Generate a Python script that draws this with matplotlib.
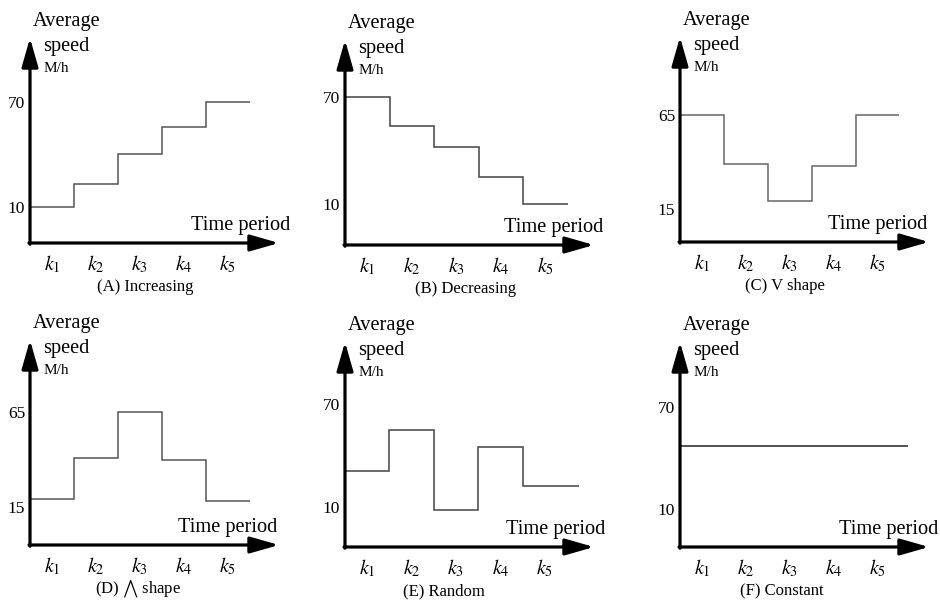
import matplotlib
matplotlib.use("Agg")
import matplotlib.pyplot as plt

plt.rcParams['font.family'] = ['Liberation Serif', 'DejaVu Serif']
plt.rcParams['mathtext.fontset'] = 'stix'

# ---------------- data ----------------
periods = ['$k_1$', '$k_2$', '$k_3$', '$k_4$', '$k_5$']
captions = ['(A) Increasing', '(B) Decreasing', '(C) V shape',
            r'(D) $\bigwedge$ shape', '(E) Random', '(F) Constant']
increasing = [10, 23, 40, 56, 70]
decreasing = [70, 54, 42, 25, 10]
v_shape = [65, 39, 19, 38, 65]
peak_shape = [19, 41, 65, 40, 18]
random_pattern = [31, 55, 8, 45, 22]
constant = [47]
tick_values = [[10, 70], [10, 70], [15, 65], [15, 65], [10, 70], [10, 70]]
series = [increasing, decreasing, v_shape, peak_shape, random_pattern, constant]

# ---------------- layout (pixels) ----------------
W, H, DPI = 940, 602, 100
origins = [(30, 243), (345, 245), (680, 242), (30, 545), (345, 547), (680, 547)]
ylims = [(-10.6, 106.6), (-13.0, 102.0), (-2.9, 106.8),
         (-5.0, 102.9), (-13.5, 106.5), (-12.4, 108.2)]
period_px = [44, 44.5, 44, 44, 44.4, 44]
line_end = [5.0, 5.0, 4.98, 5.0, 5.27, 5.18]
step_colors = ['#555555', '#444444', '#666666', '#555555', '#444444', '#222222']
time_right = [290, 603, 927, 277, 605, 938]
caption_cx = [145, 466, 785, 138, 444, 782]
AX_W, AX_H = 249, 205

fig = plt.figure(figsize=(W / DPI, H / DPI), dpi=DPI)
fig.patch.set_facecolor('white')


def fx(x):
    return x / W


def fy(y):
    return 1 - y / H


for i in range(6):
    ox, oy = origins[i]
    ax = fig.add_axes([fx(ox), fy(oy), AX_W / W, AX_H / H])
    ax.set_xlim(0, AX_W / period_px[i])
    ax.set_ylim(*ylims[i])
    for s in ax.spines.values():
        s.set_visible(False)
    ax.patch.set_alpha(0)

    vals = series[i]
    if len(vals) == 1:
        ax.plot([0, line_end[i]], [vals[0], vals[0]], color=step_colors[i], lw=1.1,
                solid_capstyle='butt')
    else:
        edges = list(range(len(vals))) + [line_end[i]]
        ax.stairs(vals, edges, baseline=None, color=step_colors[i], lw=1.1)

    # axes arrows
    arrow = dict(arrowstyle='-|>,head_length=1.75,head_width=0.5', mutation_scale=10,
                 lw=2.3, color='black', shrinkA=0, shrinkB=0)
    ax.annotate('', xy=(1.0, 0), xytext=(-0.004, 0), xycoords='axes fraction',
                textcoords='axes fraction', arrowprops=arrow)
    ax.annotate('', xy=(0, 1.0), xytext=(0, -0.006), xycoords='axes fraction',
                textcoords='axes fraction', arrowprops=arrow)

    ax.set_yticks(tick_values[i])
    ax.set_yticklabels([str(v) for v in tick_values[i]], fontsize=12.5)
    ax.set_xticks([k + 0.5 for k in range(5)])
    ax.set_xticklabels(periods, fontsize=14.5)
    ax.tick_params(axis='y', length=0, pad=3.5)
    ax.tick_params(axis='x', length=0, pad=7.5)

    fig.text(fx(ox + 3), fy(oy - 217), 'Average', fontsize=14.7, va='baseline', ha='left')
    fig.text(fx(ox + 13), fy(oy - 192), 'speed', fontsize=14.7, va='baseline', ha='left')
    fig.text(fx(ox + 14), fy(oy - 171), 'M/h', fontsize=11, va='baseline', ha='left')
    fig.text(fx(time_right[i]), fy(oy - 13), 'Time period', fontsize=14.7,
             va='baseline', ha='right')
    fig.text(fx(caption_cx[i]), fy(oy + 44), captions[i], fontsize=12,
             va='center', ha='center')

fig.savefig('out.png', dpi=DPI, facecolor='white')
